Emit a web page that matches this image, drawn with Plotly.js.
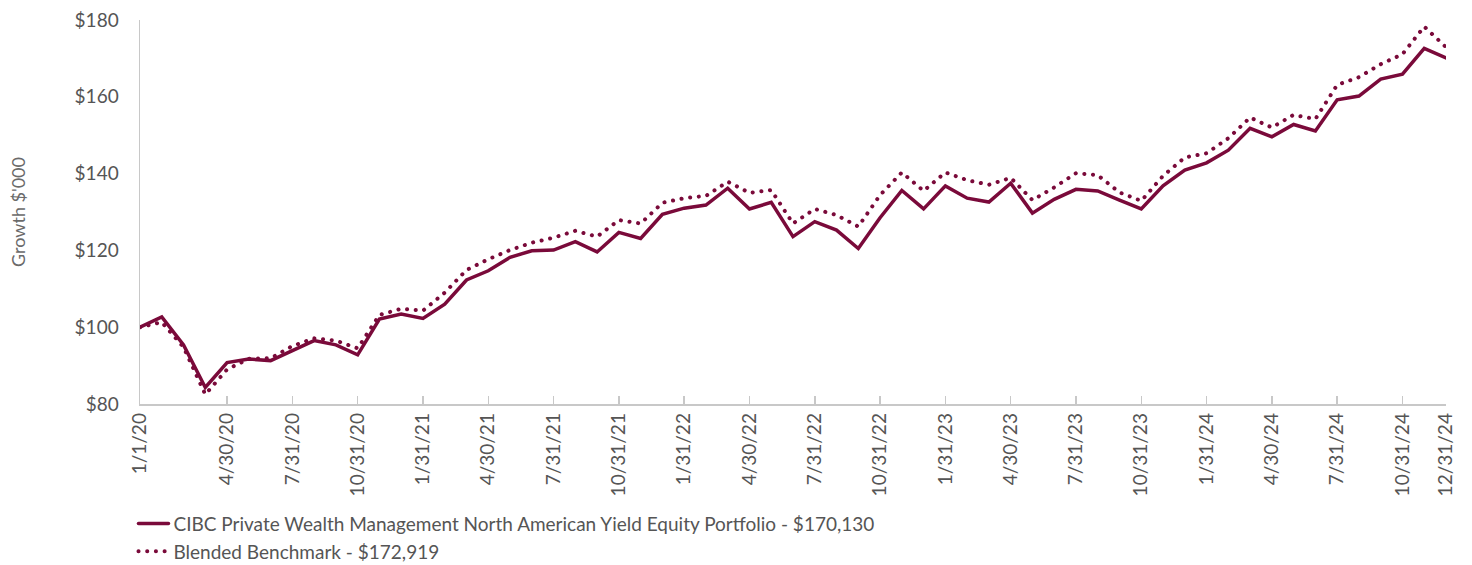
<!DOCTYPE html>
<html>
<head>
<meta charset="utf-8">
<script src="https://cdn.plot.ly/plotly-3.0.1.min.js"></script>
<style>
html,body{margin:0;padding:0;background:#fff;}
#chart{width:1472px;height:565px;}
.scatterlayer .js-line, .legendlines path { stroke-linecap: round; }
</style>
</head>
<body>
<div id="chart"></div>
<script>
const categories = [
  "1/1/20","1/31/20","2/29/20","3/31/20","4/30/20","5/31/20","6/30/20","7/31/20","8/31/20","9/30/20","10/31/20","11/30/20","12/31/20",
  "1/31/21","2/28/21","3/31/21","4/30/21","5/31/21","6/30/21","7/31/21","8/31/21","9/30/21","10/31/21","11/30/21","12/31/21",
  "1/31/22","2/28/22","3/31/22","4/30/22","5/31/22","6/30/22","7/31/22","8/31/22","9/30/22","10/31/22","11/30/22","12/31/22",
  "1/31/23","2/28/23","3/31/23","4/30/23","5/31/23","6/30/23","7/31/23","8/31/23","9/30/23","10/31/23","11/30/23","12/31/23",
  "1/31/24","2/29/24","3/31/24","4/30/24","5/31/24","6/30/24","7/31/24","8/31/24","9/30/24","10/31/24","11/30/24","12/31/24"
];

const portfolio = [
  100, 102.7, 95.4, 84.3, 90.8, 91.7, 91.3, 93.9, 96.5, 95.4, 92.8, 102.1, 103.4,
  102.3, 106.0, 112.3, 114.7, 118.2, 119.9, 120.1, 122.3, 119.6, 124.7, 123.1, 129.4,
  131.0, 131.8, 136.2, 130.8, 132.5, 123.6, 127.5, 125.3, 120.5, 128.5, 135.6, 130.8,
  136.8, 133.6, 132.6, 137.5, 129.7, 133.3, 135.9, 135.5, 133.1, 130.8, 136.8, 140.9,
  142.8, 146.1, 151.8, 149.6, 152.8, 151.1, 159.2, 160.2, 164.6, 165.9, 172.6, 170.13
];

const benchmark = [
  100, 101.3, 94.8, 82.5, 89.0, 91.8, 91.9, 95.1, 97.1, 96.5, 94.5, 103.2, 104.8,
  104.3, 109.0, 114.9, 117.7, 120.1, 122.0, 123.3, 125.1, 123.6, 127.9, 127.0, 132.4,
  133.6, 134.2, 137.9, 135.0, 135.7, 127.0, 130.8, 129.2, 126.2, 134.4, 140.3, 135.5,
  140.3, 138.3, 137.1, 138.9, 133.1, 136.4, 140.1, 139.6, 135.1, 132.9, 139.4, 144.2,
  145.3, 149.2, 154.6, 152.0, 155.3, 154.2, 163.1, 165.1, 168.5, 171.1, 178.3, 172.919
];

const seriesNames = [
  "CIBC Private Wealth Management North American Yield Equity Portfolio - $170,130",
  "Blended Benchmark - $172,919"
];

const xTickLabels = [
  "1/1/20","4/30/20","7/31/20","10/31/20","1/31/21","4/30/21","7/31/21","10/31/21",
  "1/31/22","4/30/22","7/31/22","10/31/22","1/31/23","4/30/23","7/31/23","10/31/23",
  "1/31/24","4/30/24","7/31/24","10/31/24","12/31/24"
];

const yTickValues = [80, 100, 120, 140, 160, 180];
const yTickLabels = ["$80", "$100", "$120", "$140", "$160", "$180"];

const color = "#7a0a3a";
const textColor = "#555555";
const fontFamily = "Lato, 'Open Sans', sans-serif";

const traces = [
  {
    x: categories, y: portfolio, name: seriesNames[0], type: "scatter", mode: "lines",
    line: {color: color, width: 3.5}
  },
  {
    x: categories, y: benchmark, name: seriesNames[1], type: "scatter", mode: "lines",
    line: {color: color, width: 4, dash: "0.1px,8.6px"}
  }
];

const layout = {
  width: 1472, height: 565,
  margin: {l: 140, r: 26, t: 20, b: 161, autoexpand: false},
  paper_bgcolor: "#ffffff", plot_bgcolor: "#ffffff",
  font: {family: fontFamily, color: textColor, size: 18},
  showlegend: true,
  legend: {
    orientation: "v", x: -0.005, xanchor: "left", y: -0.262, yanchor: "top",
    font: {size: 19, color: textColor, family: fontFamily},
    tracegroupgap: 0, itemwidth: 30, bgcolor: "rgba(0,0,0,0)"
  },
  xaxis: {
    type: "category",
    range: [0, categories.length - 1],
    tickmode: "array", tickvals: xTickLabels, ticktext: xTickLabels,
    tickangle: -90,
    ticks: "inside", ticklen: 8, tickcolor: "#c8c8c8", tickwidth: 1.5,
    showline: true, linecolor: "#c8c8c8", linewidth: 1.5,
    showgrid: false, zeroline: false,
    tickfont: {size: 19, color: textColor, family: fontFamily},
    fixedrange: true
  },
  yaxis: {
    range: [80, 180],
    tickmode: "array", tickvals: yTickValues, ticktext: yTickLabels,
    ticks: "", showline: true, linecolor: "#c8c8c8", linewidth: 1.5,
    showgrid: false, zeroline: false,
    ticklabelstandoff: 16,
    tickfont: {size: 19, color: textColor, family: fontFamily},
    title: {text: "Growth $'000", font: {size: 18, color: "#6a6a6a", family: fontFamily}, standoff: 44},
    fixedrange: true
  }
};

Plotly.newPlot("chart", traces, layout, {displayModeBar: false, staticPlot: true});
</script>
</body>
</html>
